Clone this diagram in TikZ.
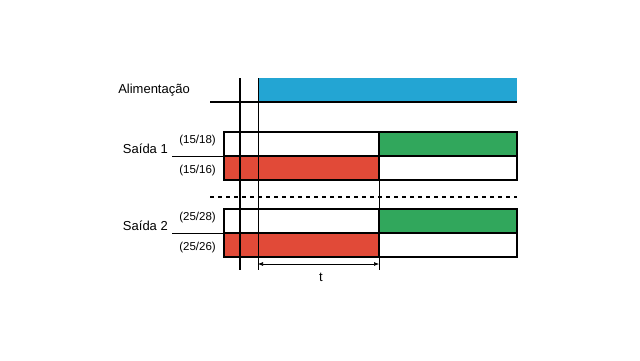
\documentclass[tikz,border=0pt]{standalone}
\usepackage{fontspec}
\setmainfont{Liberation Sans}
\usetikzlibrary{arrows.meta,positioning}
\definecolor{supplyBlue}{RGB}{35,165,211}
\definecolor{onGreen}{RGB}{49,167,92}
\definecolor{offRed}{RGB}{225,74,56}
\begin{document}
\begin{tikzpicture}[x=1pt, y=-1pt,
    lbl/.style={font=\fontsize{13}{15}\selectfont, anchor=east, inner sep=0pt},
    pinlbl/.style={font=\fontsize{11.5}{13}\selectfont, anchor=east, inner sep=0pt},
    edge/.style={line width=2pt, line cap=rect},
    guide/.style={line width=0.8pt},
    arr/.style={{Latex[length=5pt,width=4pt]}-{Latex[length=5pt,width=4pt]}, line width=0.6pt}
]
\useasboundingbox (0,0) rectangle (640,360);

% Supply
\fill[supplyBlue] (258,78) rectangle (517,102);
\node[lbl] (supply) at (190,90) {Alimentação};

% Outputs (fills)
\foreach \n/\y in {1/132, 2/209} {
    \fill[onGreen] (379,\y) rectangle (517,\y+24);
    \fill[offRed] (224,\y+24) rectangle (379,\y+48);
}

% Thin timing guides
\draw[guide] (258,78) -- (258,270);
\draw[guide] (379,180) -- (379,270);

% Outputs (outlines and labels)
\foreach \n/\y in {1/132, 2/209} {
    \draw[edge] (224,\y) rectangle (517,\y+48);
    \draw[edge] (224,\y+24) -- (517,\y+24);
    \draw[edge] (379,\y) -- (379,\y+48);
    \draw[guide] (172,\y+24) -- (224,\y+24);
    \node[lbl] (out\n) at (168,\y+17) {Saída \n};
    \node[pinlbl] (out\n no) at (216,\y+9) {(\n5/\n8)};
    \node[pinlbl] (out\n nc) at (216,\y+39) {(\n5/\n6)};
}

% Separator
\draw[line width=1.6pt, dash pattern=on 4pt off 4pt] (210,197) -- (517,197);

% Supply baseline and switch-on instant
\draw[edge, line cap=butt] (210,102) -- (517,102);
\draw[line width=1.6pt] (240,78) -- (240,270);

% Delay t
\coordinate (tstart) at (258,264);
\coordinate (tend) at (379,264);
\draw[arr] (tstart) -- (tend);
\node[font=\fontsize{13}{15}\selectfont, inner sep=0pt] (tlbl) at (321,277) {t};
\end{tikzpicture}
\end{document}
